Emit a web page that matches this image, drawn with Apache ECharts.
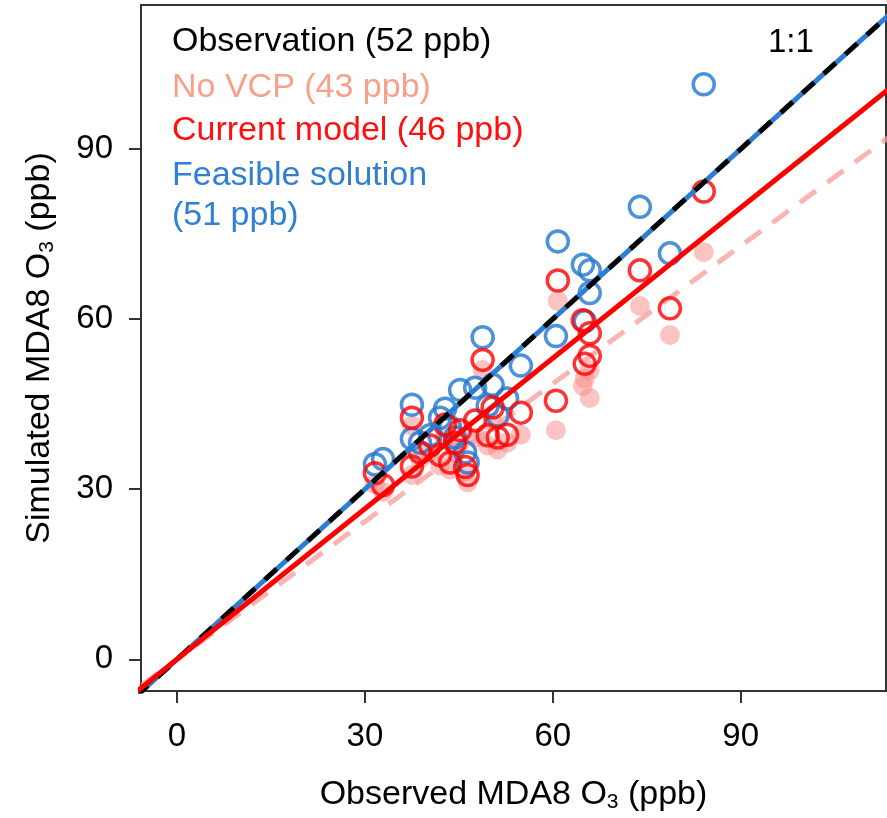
<!DOCTYPE html>
<html>
<head>
<meta charset="utf-8">
<script src="https://cdn.jsdelivr.net/npm/echarts@6/dist/echarts.min.js"></script>
<style>
  html, body { margin: 0; padding: 0; background: #fff; }
  #chart { width: 887px; height: 818px; }
</style>
</head>
<body>
<div id="chart"></div>
<script>
// observed MDA8 O3 per site (ppb)
var observed = [84.1, 73.9, 78.7, 60.8, 60.5, 64.8, 65.9, 65.9, 65.1, 54.9,
  48.8, 50.4, 52.7, 47.6, 45.2, 42.8, 37.5, 37.5, 31.6, 32.9,
  42.0, 43.6, 46.0, 46.4, 38.8, 40.4, 49.6, 51.2, 44.4];
// simulated values
var feasible = [101.4, 79.8, 71.6, 73.7, 57.0, 69.6, 68.6, 64.6, 59.6, 51.8,
  56.8, 48.4, 46.0, 47.9, 47.5, 44.2, 44.9, 38.9, 34.4, 35.3,
  42.6, 40.9, 36.5, 34.7, 38.2, 39.5, 44.7, 43.0, 39.1];
var current = [82.5, 68.6, 61.9, 66.8, 45.6, 59.8, 57.5, 53.5, 52.1, 43.5,
  52.8, 44.4, 39.6, 42.1, 40.4, 41.4, 42.6, 34.0, 32.8, 30.7,
  36.0, 34.7, 33.9, 32.5, 36.5, 37.7, 39.5, 39.1, 38.2];
var noVcp = [71.8, 62.3, 57.2, 63.2, 40.4, 48.2, 46.1, 51.0, 49.5, 39.6,
  51.0, 41.8, 38.2, 39.1, 38.2, 39.1, 41.2, 32.5, 30.9, 29.5,
  34.2, 33.5, 33.0, 31.2, 35.3, 36.5, 37.7, 37.0, 36.5];

// fit line slopes (through origin)
var slopeNoVcp = 0.81;
var slopeCurrent = 0.885;
var slopeFeasible = 1.0;
var slopeOneToOne = 1.0;

var tickValues = [0, 30, 60, 90];
var legendLines = ['Observation (52 ppb)', 'No VCP (43 ppb)', 'Current model (46 ppb)', 'Feasible solution', '(51 ppb)'];

var xMin = -5.75, xMax = 113.2, yMin = -5.6, yMax = 115.4;

function pairs(ys) {
  return observed.map(function (x, i) { return [x, ys[i]]; });
}
function fitLine(k) {
  return [[-10, -10 * k], [130, 130 * k]];
}

var font = "'Liberation Sans', Arial, sans-serif";
var myChart = echarts.init(document.getElementById('chart'));

var subStyle = { fontSize: 21, verticalAlign: 'bottom', padding: [16, 0, 0, 0], fontFamily: font, color: '#000' };

var option = {
  animation: false,
  grid: {
    left: 141, top: 5, right: 1, bottom: 119,
    show: true, borderColor: '#333', borderWidth: 2
  },
  xAxis: {
    type: 'value', min: xMin, max: xMax,
    name: 'Observed MDA8 O{sub|3} (ppb)',
    nameLocation: 'middle', nameGap: 85,
    nameTextStyle: { color: '#000', fontSize: 34, fontFamily: font, rich: { sub: subStyle } },
    axisLine: { onZero: false, lineStyle: { color: '#333', width: 2 } },
    axisTick: { show: true, length: 12, customValues: tickValues, lineStyle: { color: '#333', width: 2 } },
    axisLabel: { customValues: tickValues, color: '#000', fontSize: 33, fontFamily: font, margin: 29 },
    splitLine: { show: false }
  },
  yAxis: {
    type: 'value', min: yMin, max: yMax,
    name: 'Simulated MDA8 O{sub|3} (ppb)',
    nameLocation: 'middle', nameGap: 83,
    nameTextStyle: { color: '#000', fontSize: 34, fontFamily: font, rich: { sub: subStyle } },
    axisLine: { show: true, onZero: false, lineStyle: { color: '#333', width: 2 } },
    axisTick: { show: true, length: 12, customValues: tickValues, lineStyle: { color: '#333', width: 2 } },
    axisLabel: { customValues: tickValues, color: '#000', fontSize: 33, fontFamily: font, margin: 28 },
    splitLine: { show: false }
  },
  graphic: legendLines.map(function (t, i) {
    var colors = ['#000', '#f7a08a', '#ff1010', '#2f7fd3', '#2f7fd3'];
    var ys = [45, 91, 134, 179, 219];
    return {
      type: 'text', left: 172, top: ys[i] - 20, z: 100,
      style: { text: t, fill: colors[i], font: '34px ' + font }
    };
  }).concat([{
    type: 'text', left: 768, top: 26, z: 100,
    style: { text: '1:1', fill: '#000', font: '33px ' + font }
  }]),
  series: [
    {
      name: 'No VCP', type: 'scatter', data: pairs(noVcp), z: 1,
      symbol: 'circle', symbolSize: 20,
      itemStyle: { color: 'rgba(248,130,130,0.6)' }
    },
    {
      name: 'No VCP fit', type: 'line', data: fitLine(slopeNoVcp), z: 2,
      showSymbol: false, symbol: 'none',
      lineStyle: { color: 'rgba(250,155,155,0.75)', width: 5, type: [20, 14] }
    },
    {
      name: 'Feasible', type: 'scatter', data: pairs(feasible), z: 3,
      symbol: 'circle', symbolSize: 21,
      itemStyle: { color: 'rgba(255,255,255,0)', borderColor: '#1f77d0', borderWidth: 3.5 }
    },
    {
      name: 'Current', type: 'scatter', data: pairs(current), z: 4,
      symbol: 'circle', symbolSize: 21,
      itemStyle: { color: 'rgba(255,255,255,0)', borderColor: '#ff0000', borderWidth: 3.5 }
    },
    {
      name: 'Feasible fit', type: 'line', data: fitLine(slopeFeasible), z: 5,
      showSymbol: false, symbol: 'none',
      lineStyle: { color: '#2a7fd4', width: 5 }
    },
    {
      name: '1:1', type: 'line', data: fitLine(slopeOneToOne), z: 6,
      showSymbol: false, symbol: 'none',
      lineStyle: { color: '#000', width: 5, type: [16, 13] }
    },
    {
      name: 'Current fit', type: 'line', data: fitLine(slopeCurrent), z: 7,
      showSymbol: false, symbol: 'none',
      lineStyle: { color: '#ff0000', width: 5 }
    }
  ]
};

myChart.setOption(option);
window.addEventListener('resize', () => myChart.resize());
</script>
</body>
</html>
